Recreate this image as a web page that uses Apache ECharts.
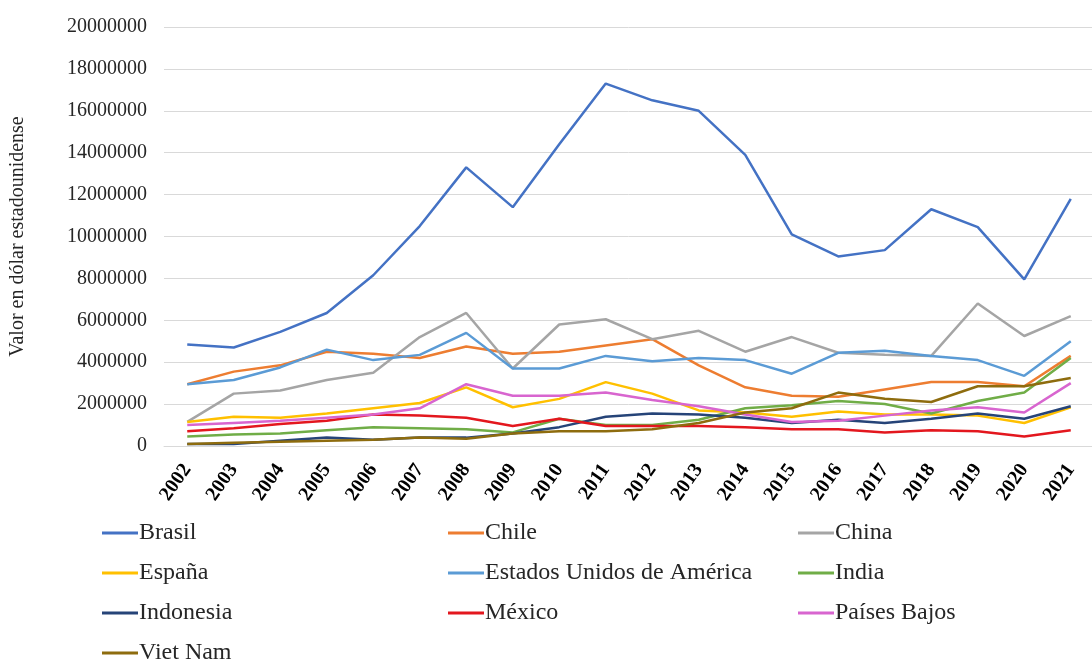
<!DOCTYPE html>
<html>
<head>
<meta charset="utf-8">
<script src="https://cdn.jsdelivr.net/npm/echarts@6/dist/echarts.min.js"></script>
<style>html,body{margin:0;padding:0;background:#fff;}#c{width:1092px;height:663px;}</style>
</head>
<body>
<div id="c"></div>
<script>
const years = ['2002','2003','2004','2005','2006','2007','2008','2009','2010','2011','2012','2013','2014','2015','2016','2017','2018','2019','2020','2021'];
const brasil = [4850000,4700000,5450000,6350000,8150000,10500000,13300000,11400000,14400000,17300000,16500000,16000000,13900000,10100000,9050000,9350000,11300000,10450000,7950000,11800000];
const chile = [2950000,3550000,3850000,4500000,4400000,4200000,4750000,4400000,4500000,4800000,5100000,3850000,2800000,2400000,2350000,2700000,3050000,3050000,2850000,4300000];
const china = [1150000,2500000,2650000,3150000,3500000,5200000,6350000,3700000,5800000,6050000,5100000,5500000,4500000,5200000,4450000,4350000,4300000,6800000,5250000,6200000];
const espana = [1150000,1400000,1350000,1550000,1800000,2050000,2800000,1850000,2250000,3050000,2500000,1700000,1600000,1400000,1650000,1500000,1500000,1450000,1100000,1850000];
const eeuu = [2950000,3150000,3750000,4600000,4100000,4350000,5400000,3700000,3700000,4300000,4050000,4200000,4100000,3450000,4450000,4550000,4300000,4100000,3350000,5000000];
const india = [450000,550000,600000,750000,900000,850000,800000,650000,1300000,1000000,1000000,1250000,1800000,1950000,2150000,2000000,1550000,2150000,2550000,4200000];
const indonesia = [100000,100000,250000,400000,300000,400000,400000,600000,900000,1400000,1550000,1500000,1350000,1100000,1250000,1100000,1300000,1550000,1300000,1900000];
const mexico = [700000,850000,1050000,1200000,1500000,1450000,1350000,950000,1300000,950000,950000,950000,900000,800000,800000,650000,750000,700000,450000,750000];
const paisesBajos = [1000000,1100000,1200000,1350000,1500000,1800000,2950000,2400000,2400000,2550000,2200000,1900000,1500000,1150000,1200000,1450000,1700000,1850000,1600000,3000000];
const vietNam = [100000,150000,200000,250000,300000,400000,350000,600000,700000,700000,800000,1100000,1600000,1800000,2550000,2250000,2100000,2850000,2850000,3250000];
const yTicks = [0,2000000,4000000,6000000,8000000,10000000,12000000,14000000,16000000,18000000,20000000];

const seriesDefs = [
  ['Brasil', brasil, '#4472C4'],
  ['Chile', chile, '#ED7D31'],
  ['China', china, '#A5A5A5'],
  ['España', espana, '#FFC000'],
  ['Estados Unidos de América', eeuu, '#5B9BD5'],
  ['India', india, '#70AD47'],
  ['Indonesia', indonesia, '#264478'],
  ['México', mexico, '#E3171E'],
  ['Países Bajos', paisesBajos, '#D865CF'],
  ['Viet Nam', vietNam, '#8E6C0E']
];
const serif = '"Liberation Serif", "Times New Roman", serif';
const legendBase = {
  orient: 'vertical', top: 521, height: 160, itemWidth: 36, itemHeight: 3, itemGap: 16, icon: 'rect',
  padding: 0,
  textStyle: {fontFamily: serif, fontSize: 24, color: '#262626', lineHeight: 24, padding: [0,0,0,-4]},
  selectedMode: false
};
const chart = echarts.init(document.getElementById('c'));
chart.setOption({
  animation: false,
  backgroundColor: '#fff',
  grid: {left: 164, top: 27, width: 930, height: 419, containLabel: false, outerBoundsMode: 'none'},
  xAxis: {
    type: 'category', data: years, boundaryGap: true,
    axisLine: {lineStyle: {color: '#D9D9D9'}},
    axisTick: {show: false},
    axisLabel: {rotate: 55, margin: 20, fontFamily: serif, fontWeight: 'bold', fontSize: 20, color: '#000'}
  },
  yAxis: {
    type: 'value', min: 0, max: 20000000, interval: 2000000,
    name: 'Valor en dólar estadounidense', nameLocation: 'middle', nameRotate: 90, nameGap: 136,
    nameTextStyle: {fontFamily: serif, fontSize: 20, color: '#262626'},
    axisLine: {show: false}, axisTick: {show: false},
    splitLine: {lineStyle: {color: '#D9D9D9', width: 1}},
    axisLabel: {margin: 17, fontFamily: serif, fontSize: 20, color: '#262626',
      formatter: v => yTicks.includes(v) ? String(v) : ''}
  },
  legend: [
    Object.assign({}, legendBase, {left: 102, data: ['Brasil','España','Indonesia','Viet Nam']}),
    Object.assign({}, legendBase, {left: 448, data: ['Chile','Estados Unidos de América','México']}),
    Object.assign({}, legendBase, {left: 798, data: ['China','India','Países Bajos']})
  ],
  series: seriesDefs.map(([name, data, color]) => ({
    name, type: 'line', data, symbol: 'none', color,
    lineStyle: {width: 2.5, color}
  }))
});
</script>
</body>
</html>
